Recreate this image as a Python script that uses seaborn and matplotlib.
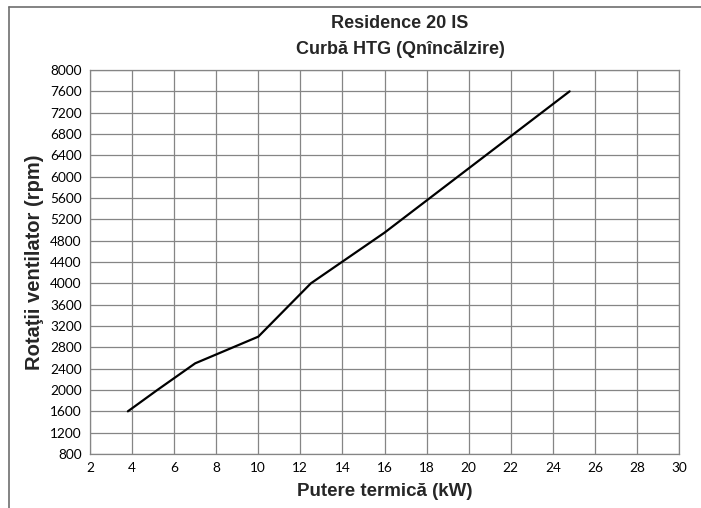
import pandas as pd
import matplotlib.pyplot as plt
import seaborn as sns
from matplotlib.lines import Line2D

# Data
power_kw = [3.8, 5.2, 7, 10, 12.5, 16, 24.8]
fan_rpm = [1600, 2000, 2500, 3000, 4000, 4950, 7600]

x_ticks = list(range(2, 31, 2))
y_ticks = list(range(800, 8001, 400))

title_lines = ["Residence 20 IS", "Curbă HTG (Qnîncălzire)"]
x_label = "Putere termică (kW)"
y_label = "Rotaţii ventilator (rpm)"

df = pd.DataFrame({"power": power_kw, "rpm": fan_rpm})

sns.set_style("white")
plt.rcParams['font.family'] = ['Liberation Sans', 'DejaVu Sans']

fig = plt.figure(figsize=(7.01, 5.08), dpi=100)
ax = fig.add_axes([90 / 701, 1 - 454 / 508, (679 - 90) / 701, (454 - 70) / 508])

sns.lineplot(data=df, x="power", y="rpm", ax=ax, color="black", linewidth=1.6, zorder=3)

ax.set_xlim(2, 30)
ax.set_ylim(800, 8000)
ax.set_xticks(x_ticks)
ax.set_yticks(y_ticks)
ax.set_xticklabels([str(t) for t in x_ticks], family=['Lato', 'DejaVu Sans'], fontsize=9.8)
ax.set_yticklabels([str(t) for t in y_ticks], family=['Lato', 'DejaVu Sans'], fontsize=9.8)
ax.grid(True, color="#858585", linewidth=0.9)
ax.set_axisbelow(True)
for side in ax.spines.values():
    side.set_color("#858585")
    side.set_linewidth(0.9)
ax.tick_params(axis="both", direction="out", length=4, width=0.9, color="#858585",
               pad=2, labelcolor="black")

ax.set_xlabel(x_label, fontsize=13.5, fontweight="bold", labelpad=6)
ax.set_ylabel(y_label, fontsize=14.5, fontweight="bold", labelpad=4)

fig.text(400 / 701, 1 - 23 / 508, title_lines[0], ha="center", va="center",
         fontsize=13, fontweight="bold")
fig.text(400 / 701, 1 - 50 / 508, title_lines[1], ha="center", va="center",
         fontsize=13, fontweight="bold")

# outer chart frame (only left and top edges visible in the crop)
fig.add_artist(Line2D([9 / 701, 9 / 701], [0, 1 - 7 / 508], transform=fig.transFigure,
                      color="#6e6e6e", linewidth=1.2))
fig.add_artist(Line2D([9 / 701, 1], [1 - 7 / 508, 1 - 7 / 508], transform=fig.transFigure,
                      color="#6e6e6e", linewidth=1.2))

fig.savefig("out.png", dpi=100)
